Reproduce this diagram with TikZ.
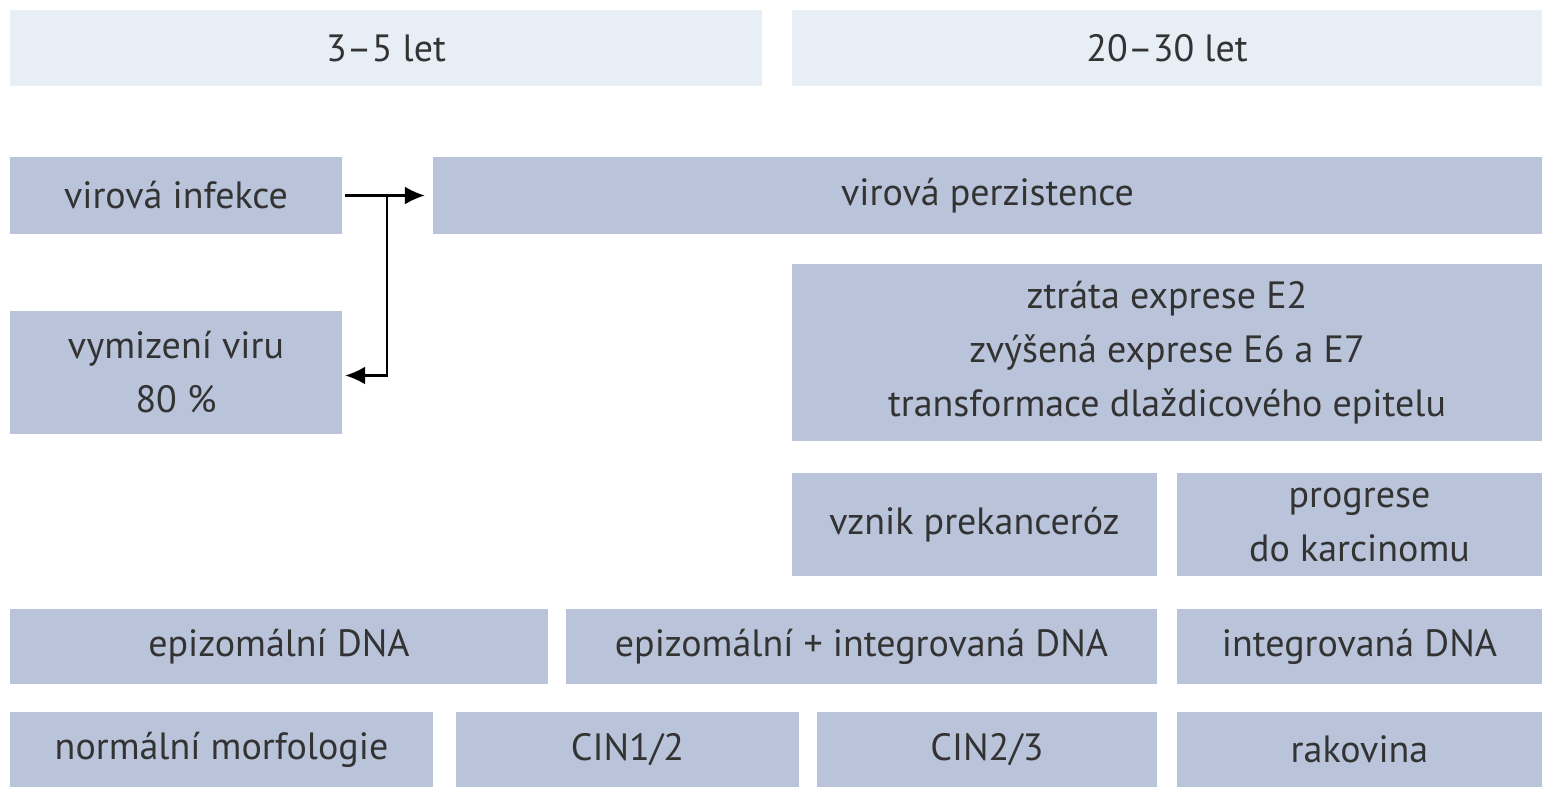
\documentclass[tikz,border=0pt]{standalone}
\usepackage{fontspec}
\setmainfont{PT Sans}
\usetikzlibrary{arrows.meta}
\begin{document}
\begin{tikzpicture}[x=1pt,y=-1pt,
  bx/.style={fill=boxc,draw=none,inner sep=0pt,align=center,text=txt,font=\fontsize{38}{54}\selectfont},
  hd/.style={bx,fill=hdc}]
\definecolor{boxc}{HTML}{B9C4DA}
\definecolor{hdc}{HTML}{E7EEF6}
\definecolor{txt}{HTML}{333333}
\useasboundingbox (0,0) rectangle (1550,800);
\newcommand{\bxn}[6]{\node[#1,minimum width={#4-#2},minimum height={#5-#3}] (#6) at ({(#2+#4)/2},{(#3+#5)/2})}
\bxn{hd}{10}{10}{762}{86}{h1} {3–5 let};
\bxn{hd}{792}{10}{1542}{86}{h2} {20–30 let};
\bxn{bx}{10}{157}{342}{234}{inf} {virová infekce};
\bxn{bx}{433}{157}{1542}{234}{per} {virová perzistence};
\bxn{bx}{10}{311}{342}{434}{vym} {vymizení viru\\80 \%};
\bxn{bx}{792}{264}{1542}{441}{ztr} {ztráta exprese E2\\zvýšená exprese E6 a E7\\transformace dlaždicového epitelu};
\bxn{bx}{792}{473}{1157}{576}{vzn} {vznik prekanceróz};
\bxn{bx}{1177}{473}{1542}{576}{pro} {progrese\\do karcinomu};
\bxn{bx}{10}{609}{548}{684}{epi} {epizomální DNA};
\bxn{bx}{566}{609}{1157}{684}{ei} {epizomální + integrovaná DNA};
\bxn{bx}{1177}{609}{1542}{684}{int} {integrovaná DNA};
\bxn{bx}{10}{712}{433}{787}{nor} {normální morfologie};
\bxn{bx}{456}{712}{799}{787}{c1} {CIN1/2};
\bxn{bx}{817}{712}{1157}{787}{c2} {CIN2/3};
\bxn{bx}{1177}{712}{1542}{787}{rak} {rakovina};
\coordinate (j) at (387,196);
\draw[line width=2.2pt,-{Latex[length=20pt,width=18pt]}] ([xshift=3pt]inf.east) -- ([xshift=-8pt]per.west);
\draw[line width=2.2pt,-{Latex[length=20pt,width=18pt]}] (j) |- ([xshift=3pt,yshift=-3pt]vym.east);
\end{tikzpicture}
\end{document}
